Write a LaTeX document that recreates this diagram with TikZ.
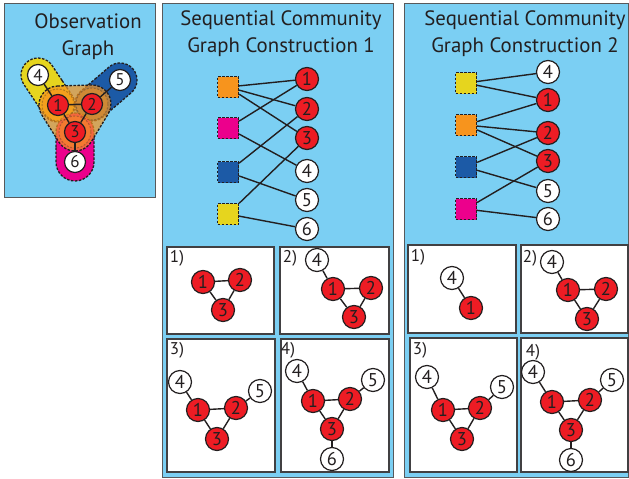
\documentclass[tikz,border=0pt]{standalone}
\usepackage{fontspec}
\setmainfont{PT Sans}
\usepackage{xcolor}
\definecolor{panelBlue}{HTML}{7BCFF3}
\definecolor{panelBorder}{HTML}{58595B}
\definecolor{boxBorder}{HTML}{414042}
\definecolor{lineDark}{HTML}{231F20}
\definecolor{nodeRed}{HTML}{ED1C24}
\definecolor{commOrange}{HTML}{F7941D}
\definecolor{commMagenta}{HTML}{EC008C}
\definecolor{commBlue}{HTML}{1C5AA6}
\definecolor{commYellow}{HTML}{E6D51E}
\usepackage{tikz}
\usetikzlibrary{shapes.misc,positioning}
\tikzset{
    panel/.style={
        draw=panelBorder,
        fill=panelBlue,
        line width=1pt
    },
    stepbox/.style={
        draw=boxBorder,
        fill=white,
        line width=1.1pt
    },
    paneltitle/.style={
        font=\fontsize{20.8}{27}\selectfont,
        text=lineDark,
        align=center
    },
    steplabel/.style={
        font=\fontsize{17}{17}\selectfont,
        text=lineDark,
        inner sep=0pt
    },
    core/.style={
        circle,
        draw=lineDark,
        fill=nodeRed,
        line width=1.2pt,
        minimum size=23pt,
        inner sep=0pt,
        text=lineDark,
        font=\fontsize{18.5}{18.5}\selectfont
    },
    leaf/.style={
        core,
        fill=white
    },
    small/.style={
        minimum size=21pt,
        font=\fontsize{17}{17}\selectfont
    },
    comm/.style={
        rectangle,
        draw=lineDark,
        dash pattern=on 2.5pt off 1.5pt,
        line width=1.2pt,
        minimum size=21pt,
        inner sep=0pt
    },
    blob/.style={
        rounded rectangle,
        draw=lineDark,
        dash pattern=on 2.5pt off 1.5pt,
        line width=1.3pt,
        inner sep=0pt
    },
    link/.style={
        draw=lineDark,
        line width=1.4pt
    }
}

\begin{document}
\begin{tikzpicture}[x=1pt,y=-1pt]
    \useasboundingbox (0,0) rectangle (629,479);

    % Panels
    \draw[panel] (4,3) rectangle (155,197);
    \draw[panel] (162,3) rectangle (393,477);
    \draw[panel] (404,3) rectangle (628.5,477);

    % Titles
    \node[paneltitle] (obsTitle) at (88,37) {Observation\\Graph};
    \node[paneltitle] (seqTitleA) at (281,34) {Sequential Community\\Graph Construction 1};
    \node[paneltitle] (seqTitleB) at (525,34) {Sequential Community\\Graph Construction 2};

    % Observation graph: communities
    \node[blob, fill=commYellow, minimum width=70pt, minimum height=34pt, rotate=-56.3] (blobYellow) at (48,90) {};
    \node[blob, fill=commBlue, minimum width=71pt, minimum height=34pt, rotate=40.6] (blobBlue) at (106,92) {};
    \node[blob, fill=commMagenta, minimum width=68pt, minimum height=38pt, rotate=90] (blobMagenta) at (75,147) {};
    \path[fill=commOrange, fill opacity=0.7, draw=lineDark, dash pattern=on 2.5pt off 1.5pt, line width=1.3pt]
        (57.44,86.01) -- (91.44,85.01) arc[start angle=-91.7, end angle=31.3, radius=19]
        -- (91.24,141.86) arc[start angle=31.3, end angle=147.8, radius=19]
        -- (41.93,115.13) arc[start angle=147.8, end angle=268.3, radius=19] -- cycle;
    \foreach \cx/\cy in {58/105, 92/104, 75/132}
        \path[fill=commOrange, fill opacity=0.4, draw=lineDark, draw opacity=0.3, dash pattern=on 2pt off 1.5pt, line width=1pt]
            (\cx,\cy) circle[radius=16];

    % Observation graph: nodes
    \node[leaf, small] (ob4) at (38,75) {4};
    \node[leaf, small] (ob5) at (120,80) {5};
    \node[core, small] (ob1) at (58,105) {1};
    \node[core, small] (ob2) at (92,104) {2};
    \node[core, small] (ob3) at (75,132) {3};
    \node[leaf, small] (ob6) at (75,162) {6};
    \draw[link] (ob4) -- (ob1);
    \draw[link] (ob1) -- (ob2);
    \draw[link] (ob1) -- (ob3);
    \draw[link] (ob2) -- (ob3);
    \draw[link] (ob2) -- (ob5);
    \draw[link] (ob3) -- (ob6);

    % Construction 1: communities and vertices
    \node[comm, fill=commOrange] (aOrange) at (228,87) {};
    \node[comm, fill=commMagenta] (aMagenta) at (228,128) {};
    \node[comm, fill=commBlue] (aBlue) at (228,172) {};
    \node[comm, fill=commYellow] (aYellow) at (228,214) {};
    \node[core] (a1) at (307,79) {1};
    \node[core] (a2) at (307,109) {2};
    \node[core] (a3) at (307,138) {3};
    \node[leaf] (a4) at (307,171) {4};
    \node[leaf] (a5) at (307,200) {5};
    \node[leaf] (a6) at (307,229) {6};
    \draw[link] (aOrange) -- (a1);
    \draw[link] (aOrange) -- (a2);
    \draw[link] (aOrange) -- (a3);
    \draw[link] (aMagenta) -- (a1);
    \draw[link] (aMagenta) -- (a4);
    \draw[link] (aBlue) -- (a2);
    \draw[link] (aBlue) -- (a5);
    \draw[link] (aYellow) -- (a3);
    \draw[link] (aYellow) -- (a6);

    % Construction 2: communities and vertices
    \node[comm, fill=commYellow] (bYellow) at (466,83) {};
    \node[comm, fill=commOrange] (bOrange) at (466,125) {};
    \node[comm, fill=commBlue] (bBlue) at (466,167) {};
    \node[comm, fill=commMagenta] (bMagenta) at (466,209) {};
    \node[leaf] (b4) at (548,72) {4};
    \node[core] (b1) at (548,100) {1};
    \node[core] (b2) at (548,133) {2};
    \node[core] (b3) at (548,161) {3};
    \node[leaf] (b5) at (548,191) {5};
    \node[leaf] (b6) at (548,219) {6};
    \draw[link] (bYellow) -- (b4);
    \draw[link] (bYellow) -- (b1);
    \draw[link] (bOrange) -- (b1);
    \draw[link] (bOrange) -- (b2);
    \draw[link] (bOrange) -- (b3);
    \draw[link] (bBlue) -- (b2);
    \draw[link] (bBlue) -- (b5);
    \draw[link] (bMagenta) -- (b3);
    \draw[link] (bMagenta) -- (b6);

    % Construction 1: steps
    \draw[stepbox] (167,247) rectangle (274,334);
    \draw[stepbox] (280,247) rectangle (389,334);
    \draw[stepbox] (167,339) rectangle (275,472);
    \draw[stepbox] (281,339) rectangle (389,472);

    \node[steplabel] (aStepOne) at (177,258) {1)};
    \node[core] (as1n1) at (203,282) {1};
    \node[core] (as1n2) at (240,280) {2};
    \node[core] (as1n3) at (223,310) {3};
    \draw[link] (as1n1) -- (as1n2);
    \draw[link] (as1n1) -- (as1n3);
    \draw[link] (as1n2) -- (as1n3);

    \node[steplabel] (aStepTwo) at (290,258) {2)};
    \node[leaf] (as2n4) at (317,260) {4};
    \node[core] (as2n1) at (333,289) {1};
    \node[core] (as2n2) at (371,288) {2};
    \node[core] (as2n3) at (354,317) {3};
    \draw[link] (as2n4) -- (as2n1);
    \draw[link] (as2n1) -- (as2n2);
    \draw[link] (as2n1) -- (as2n3);
    \draw[link] (as2n2) -- (as2n3);

    \node[steplabel] (aStepThree) at (177,350) {3)};
    \node[leaf] (as3n4) at (180,382) {4};
    \node[core] (as3n1) at (198,410) {1};
    \node[core] (as3n2) at (236,408) {2};
    \node[leaf] (as3n5) at (260,391) {5};
    \node[core] (as3n3) at (217,439) {3};
    \draw[link] (as3n4) -- (as3n1);
    \draw[link] (as3n1) -- (as3n2);
    \draw[link] (as3n1) -- (as3n3);
    \draw[link] (as3n2) -- (as3n3);
    \draw[link] (as3n2) -- (as3n5);

    \node[steplabel] (aStepFour) at (288,350) {4)};
    \node[leaf] (as4n4) at (297,371) {4};
    \node[core] (as4n1) at (313,401) {1};
    \node[core] (as4n2) at (350,399) {2};
    \node[leaf] (as4n5) at (373,380) {5};
    \node[core] (as4n3) at (332,429) {3};
    \node[leaf] (as4n6) at (332,459) {6};
    \draw[link] (as4n4) -- (as4n1);
    \draw[link] (as4n1) -- (as4n2);
    \draw[link] (as4n1) -- (as4n3);
    \draw[link] (as4n2) -- (as4n3);
    \draw[link] (as4n2) -- (as4n5);
    \draw[link] (as4n3) -- (as4n6);

    % Construction 2: steps
    \draw[stepbox] (408,245) rectangle (516,333);
    \draw[stepbox] (521,245) rectangle (628,333);
    \draw[stepbox] (410,338) rectangle (517,472);
    \draw[stepbox] (521,338) rectangle (628,472);

    \node[steplabel] (bStepOne) at (418,257) {1)};
    \node[leaf] (bs1n4) at (452,278) {4};
    \node[core] (bs1n1) at (471,308) {1};
    \draw[link] (bs1n4) -- (bs1n1);

    \node[steplabel] (bStepTwo) at (530,258) {2)};
    \node[leaf] (bs2n4) at (552,262) {4};
    \node[core] (bs2n1) at (568,290) {1};
    \node[core] (bs2n2) at (606,289) {2};
    \node[core] (bs2n3) at (587,319) {3};
    \draw[link] (bs2n4) -- (bs2n1);
    \draw[link] (bs2n1) -- (bs2n2);
    \draw[link] (bs2n1) -- (bs2n3);
    \draw[link] (bs2n2) -- (bs2n3);

    \node[steplabel] (bStepThree) at (420,350) {3)};
    \node[leaf] (bs3n4) at (427,377) {4};
    \node[core] (bs3n1) at (443,410) {1};
    \node[core] (bs3n2) at (480,408) {2};
    \node[leaf] (bs3n5) at (502,387) {5};
    \node[core] (bs3n3) at (462,439) {3};
    \draw[link] (bs3n4) -- (bs3n1);
    \draw[link] (bs3n1) -- (bs3n2);
    \draw[link] (bs3n1) -- (bs3n3);
    \draw[link] (bs3n2) -- (bs3n3);
    \draw[link] (bs3n2) -- (bs3n5);

    \node[steplabel] (bStepFour) at (533,352) {4)};
    \node[leaf] (bs4n4) at (533,372) {4};
    \node[core] (bs4n1) at (552,402) {1};
    \node[core] (bs4n2) at (590,400) {2};
    \node[leaf] (bs4n5) at (612,380) {5};
    \node[core] (bs4n3) at (571,430) {3};
    \node[leaf] (bs4n6) at (571,460) {6};
    \draw[link] (bs4n4) -- (bs4n1);
    \draw[link] (bs4n1) -- (bs4n2);
    \draw[link] (bs4n1) -- (bs4n3);
    \draw[link] (bs4n2) -- (bs4n3);
    \draw[link] (bs4n2) -- (bs4n5);
    \draw[link] (bs4n3) -- (bs4n6);
\end{tikzpicture}
\end{document}
